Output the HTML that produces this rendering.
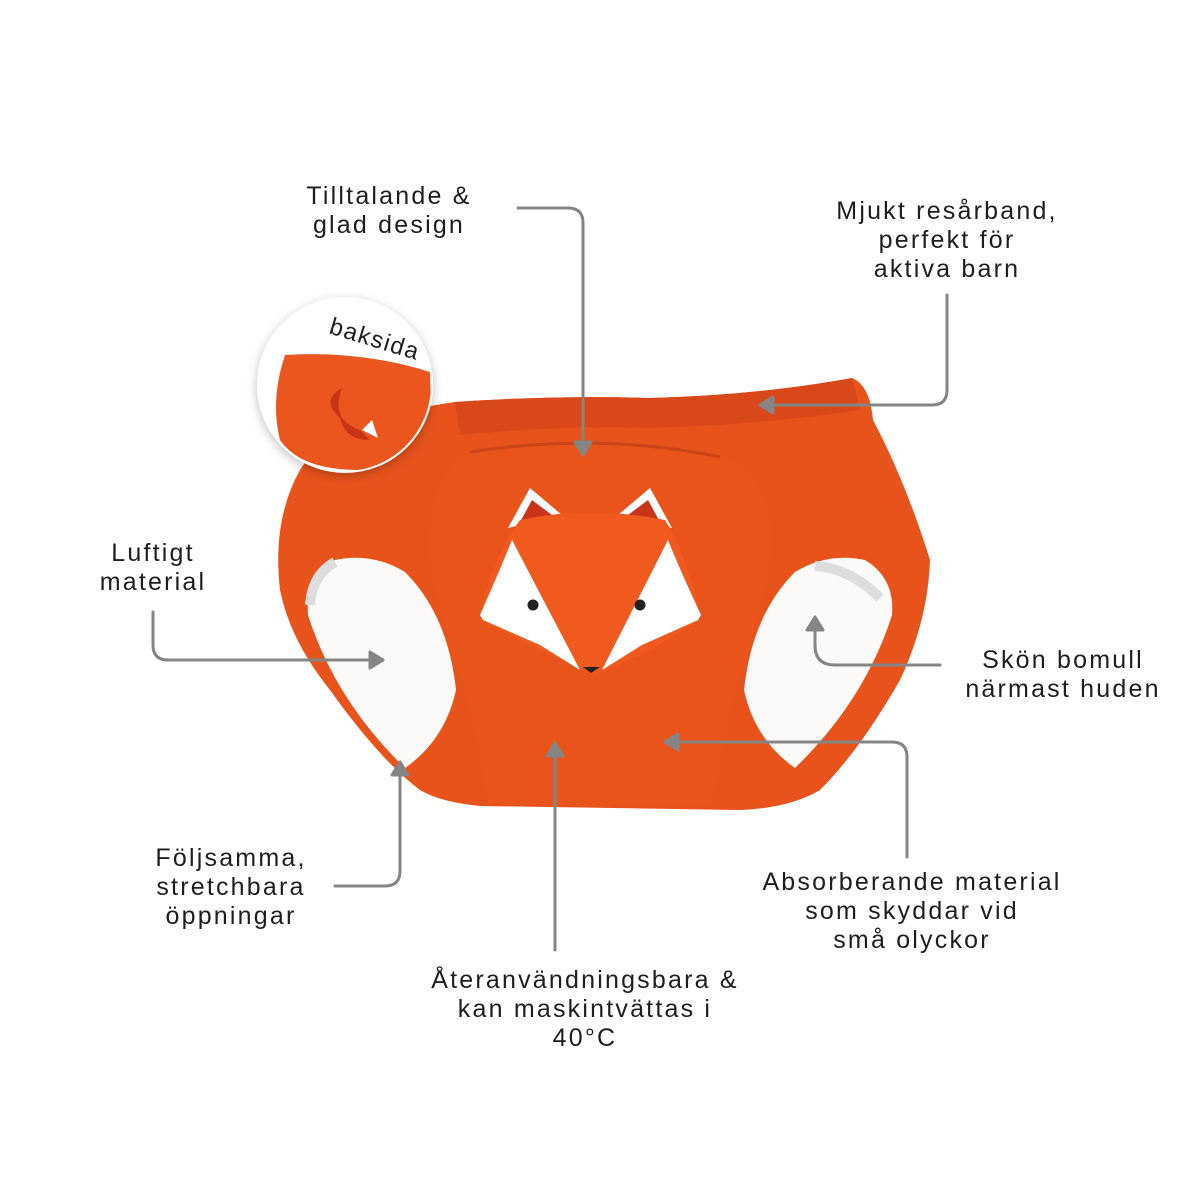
<!DOCTYPE html>
<html><head><meta charset="utf-8"><style>
html,body{margin:0;padding:0;background:#fff;}
.wrap{position:relative;width:1200px;height:1200px;overflow:hidden;font-family:"Liberation Sans",sans-serif;}
.t{position:absolute;font-size:25px;line-height:29px;color:#1e1e1e;text-align:center;letter-spacing:2.2px;white-space:nowrap;transform:translateX(-50%);}
svg{position:absolute;left:0;top:0;}
</style></head><body><div class="wrap">
<svg width="1200" height="1200" viewBox="0 0 1200 1200">
<defs>
<filter id="sh" x="-30%" y="-30%" width="160%" height="160%"><feDropShadow dx="0" dy="3" stdDeviation="5" flood-color="#000" flood-opacity="0.25"/></filter>
<clipPath id="cc"><circle cx="345" cy="385" r="86"/></clipPath>
</defs>
<!-- panty body -->
<path d="M455,402 Q560,395 650,398 Q760,395 852,378 Q870,385 873,420 Q905,480 930,560 Q928,620 900,680 Q860,750 820,790 Q790,808 740,810 L480,806 Q440,802 420,790 Q380,760 330,690 Q290,640 280,590 Q272,520 300,470 Q330,420 455,402 Z" fill="#e8531c"/>
<path d="M455,402 Q560,395 650,398 Q760,395 852,378 L860,410 Q760,425 650,428 Q560,425 460,435 Z" fill="#d9481a"/>
<!-- leg openings -->
<path d="M335,560 Q305,578 308,615 Q335,700 405,768 Q445,740 456,690 Q448,615 405,572 Q372,552 335,560 Z" fill="#fbfaf8"/>
<path d="M335,562 Q312,575 310,605" stroke="#ddd" stroke-width="10" fill="none"/>
<path d="M865,560 Q895,578 892,615 Q865,700 795,768 Q755,740 744,690 Q752,615 795,572 Q828,552 865,560 Z" fill="#fbfaf8"/>
<path d="M815,566 Q850,568 880,598" stroke="#ddd" stroke-width="10" fill="none"/>
<!-- front panel -->
<path d="M470,450 Q600,432 720,455 Q780,480 770,560 Q760,620 735,690 Q720,760 712,806 L488,804 Q480,750 465,690 Q440,620 430,560 Q425,480 470,450 Z" fill="#e9541b"/>
<path d="M470,452 Q600,432 720,457" stroke="#c9441a" stroke-width="3" fill="none"/>
<!-- fox -->
<path d="M508,528 L530,488 L562,515 Z" fill="#fff"/><path d="M520,522 L532,500 L552,515 Z" fill="#c8341a"/>
<path d="M672,528 L650,488 L618,515 Z" fill="#fff"/><path d="M660,522 L648,500 L628,515 Z" fill="#c8341a"/>
<path d="M520,520 Q590,505 665,520 Q690,560 700,620 L650,650 L596,675 L540,650 L480,620 Q490,560 520,520 Z" fill="#f05a1e"/>
<path d="M483,620 L480,615 Q500,570 512,540 L580,670 L540,645 Z" fill="#fff"/>
<path d="M698,620 L701,615 Q680,570 668,540 L602,670 L642,645 Z" fill="#fff"/>
<path d="M583,667 L591,673 L600,667 Z" fill="#222"/>
<circle cx="533" cy="605" r="5.5" fill="#222"/><circle cx="640" cy="605" r="5.5" fill="#222"/>
<!-- inset circle -->
<circle cx="345" cy="385" r="88" fill="#fff" filter="url(#sh)"/>
<g clip-path="url(#cc)">
<path d="M285,355 Q360,350 430,372 L432,440 Q400,470 360,470 Q300,470 280,440 Q270,400 285,355 Z" fill="#ea561d"/>
<path d="M340,418 Q320,400 342,388 Q330,420 360,430 L370,440 Q345,440 340,418 Z" fill="#c8341a"/>
<path d="M362,430 L372,420 L378,438 Z" fill="#fff"/>
</g>
<text x="0" y="0" font-family="Liberation Sans, sans-serif" font-size="24" letter-spacing="1.5" fill="#1e1e1e" transform="translate(328,333) rotate(17)">baksida</text>
<!-- connectors -->
<g stroke="#858585" stroke-width="3" fill="none" stroke-linecap="round">
<path d="M518,208 L568,208 Q583,208 583,223 L583,440"/>
<path d="M947,295 L947,390 Q947,405 932,405 L775,405"/>
<path d="M153,612 L153,645 Q153,660 168,660 L368,660"/>
<path d="M940,665 L835,665 Q815,665 815,645 L815,630"/>
<path d="M335,886 L385,886 Q400,886 400,871 L400,775"/>
<path d="M907,857 L907,757 Q907,742 892,742 L677,742"/>
<path d="M555,950 L555,755"/>
</g>
<g fill="#858585" stroke="#858585" stroke-width="3" stroke-linejoin="round">
<path d="M575,442 L591,442 L583,455 Z"/>
<path d="M773,397 L773,413 L760,405 Z"/>
<path d="M370,652 L370,668 L383,660 Z"/>
<path d="M807,630 L823,630 L815,617 Z"/>
<path d="M392,775 L408,775 L400,762 Z"/>
<path d="M678,734 L678,750 L665,742 Z"/>
<path d="M547,756 L563,756 L555,743 Z"/>
</g>
</svg>
<div class="t" style="left:389px;top:182px;">Tilltalande &amp;<br>glad design</div>
<div class="t" style="left:947px;top:197px;">Mjukt resårband,<br>perfekt för<br>aktiva barn</div>
<div class="t" style="left:153px;top:539px;">Luftigt<br>material</div>
<div class="t" style="left:1063px;top:646px;">Skön bomull<br>närmast huden</div>
<div class="t" style="left:231px;top:844px;">Följsamma,<br>stretchbara<br>öppningar</div>
<div class="t" style="left:912px;top:868px;">Absorberande material<br>som skyddar vid<br>små olyckor</div>
<div class="t" style="left:585px;top:966px;">Återanvändningsbara &amp;<br>kan maskintvättas i<br>40°C</div>
</div></body></html>
